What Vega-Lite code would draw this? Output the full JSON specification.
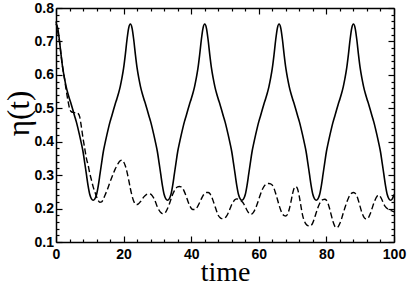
{
 "$schema": "https://vega.github.io/schema/vega-lite/v6.json",
 "width": 338, "height": 234,
 "autosize": {"type": "none"},
 "padding": {"left": 56, "top": 8, "right": 15, "bottom": 44},
 "background": "white",
 "config": {"view": {"stroke": null},
  "axis": {"domainColor": "black", "domainWidth": 1.5, "tickColor": "black", "tickWidth": 1.2, "grid": false,
   "labelFont": "Liberation Sans", "labelFontWeight": "bold", "labelFontSize": 14, "labelColor": "black",
   "labelOverlap": false, "labelFlush": false, "titleFont": "Liberation Serif", "titleFontWeight": "normal", "titleColor": "black"}},
 "data": {"values": [
{"t":0,"a":0.752,"b":0.76},{"t":0.5,"a":0.74,"b":0.73},{"t":1,"a":0.705,"b":0.70},{"t":1.5,"a":0.66,"b":0.66},
{"t":2,"a":0.62,"b":0.62},{"t":2.5,"a":0.59,"b":0.59},{"t":3,"a":0.565,"b":0.555},{"t":3.5,"a":0.545,"b":0.525},
{"t":4,"a":0.528,"b":0.50},{"t":4.5,"a":0.512,"b":0.49},{"t":5,"a":0.495,"b":0.488},{"t":5.5,"a":0.477,"b":0.487},
{"t":6,"a":0.46,"b":0.488},{"t":6.5,"a":0.44,"b":0.485},{"t":7,"a":0.418,"b":0.475},{"t":7.5,"a":0.395,"b":0.445},
{"t":8,"a":0.37,"b":0.41},{"t":8.5,"a":0.337,"b":0.38},{"t":9,"a":0.302,"b":0.35},{"t":9.5,"a":0.268,"b":0.33},
{"t":10,"a":0.242,"b":0.305},{"t":10.5,"a":0.229,"b":0.285},{"t":11,"a":0.225,"b":0.265},{"t":11.5,"a":0.229,"b":0.25},
{"t":12,"a":0.242,"b":0.235},{"t":12.5,"a":0.268,"b":0.224},{"t":13,"a":0.302,"b":0.219},{"t":13.5,"a":0.337,"b":0.22},
{"t":14,"a":0.37,"b":0.228},{"t":14.5,"a":0.395,"b":0.24},{"t":15,"a":0.418,"b":0.252},{"t":15.5,"a":0.44,"b":0.265},
{"t":16,"a":0.46,"b":0.28},{"t":16.5,"a":0.477,"b":0.293},{"t":17,"a":0.495,"b":0.306},{"t":17.5,"a":0.512,"b":0.318},
{"t":18,"a":0.528,"b":0.328},{"t":18.5,"a":0.545,"b":0.337},{"t":19,"a":0.565,"b":0.343},{"t":19.5,"a":0.59,"b":0.345},
{"t":20,"a":0.62,"b":0.34},{"t":20.5,"a":0.66,"b":0.328},{"t":21,"a":0.705,"b":0.31},{"t":21.5,"a":0.74,"b":0.286},
{"t":22,"a":0.752,"b":0.26},{"t":22.5,"a":0.74,"b":0.238},{"t":23,"a":0.705,"b":0.222},{"t":23.5,"a":0.66,"b":0.214},
{"t":24,"a":0.62,"b":0.212},{"t":24.5,"a":0.59,"b":0.215},{"t":25,"a":0.565,"b":0.221},{"t":25.5,"a":0.545,"b":0.228},
{"t":26,"a":0.528,"b":0.235},{"t":26.5,"a":0.512,"b":0.24},{"t":27,"a":0.495,"b":0.243},{"t":27.5,"a":0.477,"b":0.244},
{"t":28,"a":0.46,"b":0.243},{"t":28.5,"a":0.44,"b":0.238},{"t":29,"a":0.418,"b":0.23},{"t":29.5,"a":0.395,"b":0.218},
{"t":30,"a":0.37,"b":0.205},{"t":30.5,"a":0.337,"b":0.195},{"t":31,"a":0.302,"b":0.188},{"t":31.5,"a":0.268,"b":0.185},
{"t":32,"a":0.242,"b":0.185},{"t":32.5,"a":0.229,"b":0.19},{"t":33,"a":0.225,"b":0.2},{"t":33.5,"a":0.229,"b":0.213},
{"t":34,"a":0.242,"b":0.228},{"t":34.5,"a":0.268,"b":0.242},{"t":35,"a":0.302,"b":0.253},{"t":35.5,"a":0.337,"b":0.261},
{"t":36,"a":0.37,"b":0.265},{"t":36.5,"a":0.395,"b":0.266},{"t":37,"a":0.418,"b":0.265},{"t":37.5,"a":0.44,"b":0.26},
{"t":38,"a":0.46,"b":0.25},{"t":38.5,"a":0.477,"b":0.237},{"t":39,"a":0.495,"b":0.223},{"t":39.5,"a":0.512,"b":0.21},
{"t":40,"a":0.528,"b":0.201},{"t":40.5,"a":0.545,"b":0.197},{"t":41,"a":0.565,"b":0.197},{"t":41.5,"a":0.59,"b":0.2},
{"t":42,"a":0.62,"b":0.208},{"t":42.5,"a":0.66,"b":0.218},{"t":43,"a":0.705,"b":0.229},{"t":43.5,"a":0.74,"b":0.239},
{"t":44,"a":0.752,"b":0.245},{"t":44.5,"a":0.74,"b":0.248},{"t":45,"a":0.705,"b":0.248},{"t":45.5,"a":0.66,"b":0.245},
{"t":46,"a":0.62,"b":0.236},{"t":46.5,"a":0.59,"b":0.223},{"t":47,"a":0.565,"b":0.208},{"t":47.5,"a":0.545,"b":0.193},
{"t":48,"a":0.528,"b":0.18},{"t":48.5,"a":0.512,"b":0.173},{"t":49,"a":0.495,"b":0.17},{"t":49.5,"a":0.477,"b":0.17},
{"t":50,"a":0.46,"b":0.172},{"t":50.5,"a":0.44,"b":0.178},{"t":51,"a":0.418,"b":0.188},{"t":51.5,"a":0.395,"b":0.2},
{"t":52,"a":0.37,"b":0.212},{"t":52.5,"a":0.337,"b":0.221},{"t":53,"a":0.302,"b":0.227},{"t":53.5,"a":0.268,"b":0.229},
{"t":54,"a":0.242,"b":0.228},{"t":54.5,"a":0.229,"b":0.225},{"t":55,"a":0.225,"b":0.221},{"t":55.5,"a":0.229,"b":0.215},
{"t":56,"a":0.242,"b":0.205},{"t":56.5,"a":0.268,"b":0.195},{"t":57,"a":0.302,"b":0.187},{"t":57.5,"a":0.337,"b":0.183},
{"t":58,"a":0.37,"b":0.184},{"t":58.5,"a":0.395,"b":0.19},{"t":59,"a":0.418,"b":0.2},{"t":59.5,"a":0.44,"b":0.213},
{"t":60,"a":0.46,"b":0.228},{"t":60.5,"a":0.477,"b":0.243},{"t":61,"a":0.495,"b":0.256},{"t":61.5,"a":0.512,"b":0.266},
{"t":62,"a":0.528,"b":0.272},{"t":62.5,"a":0.545,"b":0.275},{"t":63,"a":0.565,"b":0.275},{"t":63.5,"a":0.59,"b":0.274},
{"t":64,"a":0.62,"b":0.27},{"t":64.5,"a":0.66,"b":0.26},{"t":65,"a":0.705,"b":0.245},{"t":65.5,"a":0.74,"b":0.228},
{"t":66,"a":0.752,"b":0.21},{"t":66.5,"a":0.74,"b":0.195},{"t":67,"a":0.705,"b":0.184},{"t":67.5,"a":0.66,"b":0.179},
{"t":68,"a":0.62,"b":0.178},{"t":68.5,"a":0.59,"b":0.183},{"t":69,"a":0.565,"b":0.198},{"t":69.5,"a":0.545,"b":0.22},
{"t":70,"a":0.528,"b":0.245},{"t":70.5,"a":0.512,"b":0.262},{"t":71,"a":0.495,"b":0.266},{"t":71.5,"a":0.477,"b":0.258},
{"t":72,"a":0.46,"b":0.235},{"t":72.5,"a":0.44,"b":0.205},{"t":73,"a":0.418,"b":0.178},{"t":73.5,"a":0.395,"b":0.162},
{"t":74,"a":0.37,"b":0.153},{"t":74.5,"a":0.337,"b":0.149},{"t":75,"a":0.302,"b":0.148},{"t":75.5,"a":0.268,"b":0.15},
{"t":76,"a":0.242,"b":0.158},{"t":76.5,"a":0.229,"b":0.172},{"t":77,"a":0.225,"b":0.188},{"t":77.5,"a":0.229,"b":0.203},
{"t":78,"a":0.242,"b":0.215},{"t":78.5,"a":0.268,"b":0.223},{"t":79,"a":0.302,"b":0.227},{"t":79.5,"a":0.337,"b":0.228},
{"t":80,"a":0.37,"b":0.225},{"t":80.5,"a":0.395,"b":0.215},{"t":81,"a":0.418,"b":0.198},{"t":81.5,"a":0.44,"b":0.178},
{"t":82,"a":0.46,"b":0.16},{"t":82.5,"a":0.477,"b":0.147},{"t":83,"a":0.495,"b":0.143},{"t":83.5,"a":0.512,"b":0.146},
{"t":84,"a":0.528,"b":0.156},{"t":84.5,"a":0.545,"b":0.17},{"t":85,"a":0.565,"b":0.187},{"t":85.5,"a":0.59,"b":0.203},
{"t":86,"a":0.62,"b":0.218},{"t":86.5,"a":0.66,"b":0.231},{"t":87,"a":0.705,"b":0.241},{"t":87.5,"a":0.74,"b":0.246},
{"t":88,"a":0.752,"b":0.248},{"t":88.5,"a":0.74,"b":0.246},{"t":89,"a":0.705,"b":0.238},{"t":89.5,"a":0.66,"b":0.223},
{"t":90,"a":0.62,"b":0.205},{"t":90.5,"a":0.59,"b":0.188},{"t":91,"a":0.565,"b":0.176},{"t":91.5,"a":0.545,"b":0.17},
{"t":92,"a":0.528,"b":0.169},{"t":92.5,"a":0.512,"b":0.174},{"t":93,"a":0.495,"b":0.185},{"t":93.5,"a":0.477,"b":0.2},
{"t":94,"a":0.46,"b":0.215},{"t":94.5,"a":0.44,"b":0.228},{"t":95,"a":0.418,"b":0.237},{"t":95.5,"a":0.395,"b":0.24},
{"t":96,"a":0.37,"b":0.235},{"t":96.5,"a":0.337,"b":0.225},{"t":97,"a":0.302,"b":0.213},{"t":97.5,"a":0.268,"b":0.205},
{"t":98,"a":0.242,"b":0.2},{"t":98.5,"a":0.229,"b":0.197},{"t":99,"a":0.225,"b":0.195},{"t":99.5,"a":0.229,"b":0.192},
{"t":100,"a":0.242,"b":0.19}
 ]},
 "layer": [
  {"mark": {"type": "line", "color": "black", "strokeWidth": 1.6, "interpolate": "monotone"},
   "encoding": {
    "x": {"field": "t", "type": "quantitative", "scale": {"domain": [0, 100], "nice": false, "zero": false},
     "axis": {"orient": "bottom", "values": [0,4,8,12,16,20,24,28,32,36,40,44,48,52,56,60,64,68,72,76,80,84,88,92,96,100],
      "labelExpr": "datum.value % 20 === 0 ? datum.label : ''",
      "tickSize": {"condition": {"test": "datum.value % 20 === 0", "value": -6}, "value": -3},
      "labelPadding": 11, "title": "time", "titleFontSize": 28, "titleBaseline": "alphabetic", "titleY": 38}},
    "y": {"field": "a", "type": "quantitative", "scale": {"domain": [0.1, 0.8], "nice": false, "zero": false},
     "axis": {"orient": "left", "values": [0.1,0.12,0.14,0.16,0.18,0.2,0.22,0.24,0.26,0.28,0.3,0.32,0.34,0.36,0.38,0.4,0.42,0.44,0.46,0.48,0.5,0.52,0.54,0.56,0.58,0.6,0.62,0.64,0.66,0.68,0.7,0.72,0.74,0.76,0.78,0.8],
      "format": ".1f",
      "labelExpr": "abs(datum.value*10 - round(datum.value*10)) < 0.001 ? datum.label : ''",
      "tickSize": {"condition": {"test": "abs(datum.value*10 - round(datum.value*10)) < 0.001", "value": -6}, "value": -3},
      "labelPadding": 8.5, "title": "η(t)", "titleFontSize": 31, "titleX": -21, "titleY": 105}}
   }},
  {"mark": {"type": "line", "color": "black", "strokeWidth": 1.4, "strokeDash": [6, 3], "interpolate": "monotone"},
   "encoding": {
    "x": {"field": "t", "type": "quantitative",
     "axis": {"orient": "top", "values": [0,4,8,12,16,20,24,28,32,36,40,44,48,52,56,60,64,68,72,76,80,84,88,92,96,100],
      "labels": false, "title": null,
      "tickSize": {"condition": {"test": "datum.value % 20 === 0", "value": -6}, "value": -3}}},
    "y": {"field": "b", "type": "quantitative",
     "axis": {"orient": "right", "values": [0.1,0.12,0.14,0.16,0.18,0.2,0.22,0.24,0.26,0.28,0.3,0.32,0.34,0.36,0.38,0.4,0.42,0.44,0.46,0.48,0.5,0.52,0.54,0.56,0.58,0.6,0.62,0.64,0.66,0.68,0.7,0.72,0.74,0.76,0.78,0.8],
      "labels": false, "title": null,
      "tickSize": {"condition": {"test": "abs(datum.value*10 - round(datum.value*10)) < 0.001", "value": -6}, "value": -3}}}
   }}
 ],
 "resolve": {"axis": {"x": "independent", "y": "independent"}}
}
